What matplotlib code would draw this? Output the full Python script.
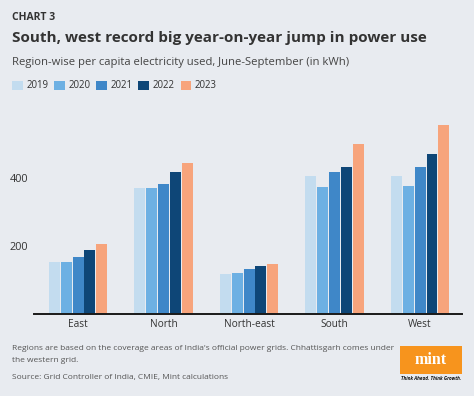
import matplotlib
matplotlib.use("Agg")
import matplotlib.pyplot as plt
from matplotlib.patches import Rectangle
import numpy as np

regions = ["East", "North", "North-east", "South", "West"]
years = ["2019", "2020", "2021", "2022", "2023"]
v2019 = [153, 371, 117, 405, 405]
v2020 = [151, 371, 120, 375, 378]
v2021 = [166, 383, 131, 418, 432]
v2022 = [188, 419, 140, 432, 471]
v2023 = [204, 443, 147, 500, 556]
series = [v2019, v2020, v2021, v2022, v2023]
colors = ["#c3dcef", "#6db0e3", "#3f87c8", "#0e4677", "#f7a47c"]
yticks = [200, 400]

BG = "#e8ebf0"
FONT = "Open Sans"
plt.rcParams["font.family"] = [FONT, "DejaVu Sans"]

W, H = 474, 396
fig = plt.figure(figsize=(W / 100, H / 100), dpi=100, facecolor=BG)

ax = fig.add_axes([34 / W, (H - 313.5) / H, 428 / W, 203.5 / H])
ax.set_facecolor(BG)

x = np.arange(len(regions))
pitch = 0.139
width = 0.128
for i, (vals, c, yr) in enumerate(zip(series, colors, years)):
    ax.bar(x + (i - 2) * pitch, vals, width=width, color=c, label=yr, zorder=2)

ax.set_xlim(-0.515, 4.49)
ax.set_ylim(0, 601)
ax.set_yticks(yticks)
ax.set_yticklabels([str(t) for t in yticks])
ax.set_xticks(x)
ax.set_xticklabels(regions)
ax.tick_params(axis="both", length=0, colors="#333333")
ax.tick_params(axis="y", pad=4, labelsize=7.8)
ax.tick_params(axis="x", pad=4, labelsize=7.3)
for s in ["top", "right", "left"]:
    ax.spines[s].set_visible(False)
ax.spines["bottom"].set_color("#1a1a1a")
ax.spines["bottom"].set_linewidth(1.4)

# Header
fig.text(12 / W, 1 - 17 / H, "CHART 3", fontsize=7.5, fontweight="bold",
         color="#333333", va="center", ha="left")
fig.text(12 / W, 1 - 38 / H, "South, west record big year-on-year jump in power use",
         fontsize=10.95, fontweight="bold", color="#333333", va="center", ha="left")
fig.text(12 / W, 1 - 63 / H, "Region-wise per capita electricity used, June-September (in kWh)",
         fontsize=8.1, color="#444444", va="center", ha="left")

leg = fig.legend(loc="center left", bbox_to_anchor=(12 / W, 1 - 86 / H), ncol=5,
                 frameon=False, fontsize=6.9, handlelength=1.1, handleheight=1.1,
                 handletextpad=0.4, columnspacing=0.6, borderaxespad=0,
                 borderpad=0, labelcolor="#333333")

# Footer
fig.text(12 / W, 1 - 349 / H,
         "Regions are based on the coverage areas of India's official power grids. Chhattisgarh comes under",
         fontsize=6.0, color="#555555", va="center", ha="left")
fig.text(12 / W, 1 - 360 / H, "the western grid.",
         fontsize=6.0, color="#555555", va="center", ha="left")
fig.text(12 / W, 1 - 378 / H, "Source: Grid Controller of India, CMIE, Mint calculations",
         fontsize=6.0, color="#555555", va="center", ha="left")

# Logo
fig.patches.append(Rectangle((400 / W, 1 - 373.5 / H), 62 / W, 27.5 / H,
                             transform=fig.transFigure, facecolor="#f7941d",
                             edgecolor="none", zorder=1))
fig.text(431 / W, 1 - 359.5 / H, "mint", fontsize=11.5, fontweight="bold",
         family=["Liberation Serif", "DejaVu Serif"], color="white",
         va="center", ha="center", zorder=3)
fig.text(431 / W, 1 - 379 / H, "Think Ahead. Think Growth.", fontsize=3.3,
         fontweight="bold", fontstyle="italic", color="#111111",
         va="center", ha="center")

fig.savefig("out.png", dpi=100, facecolor=BG)
